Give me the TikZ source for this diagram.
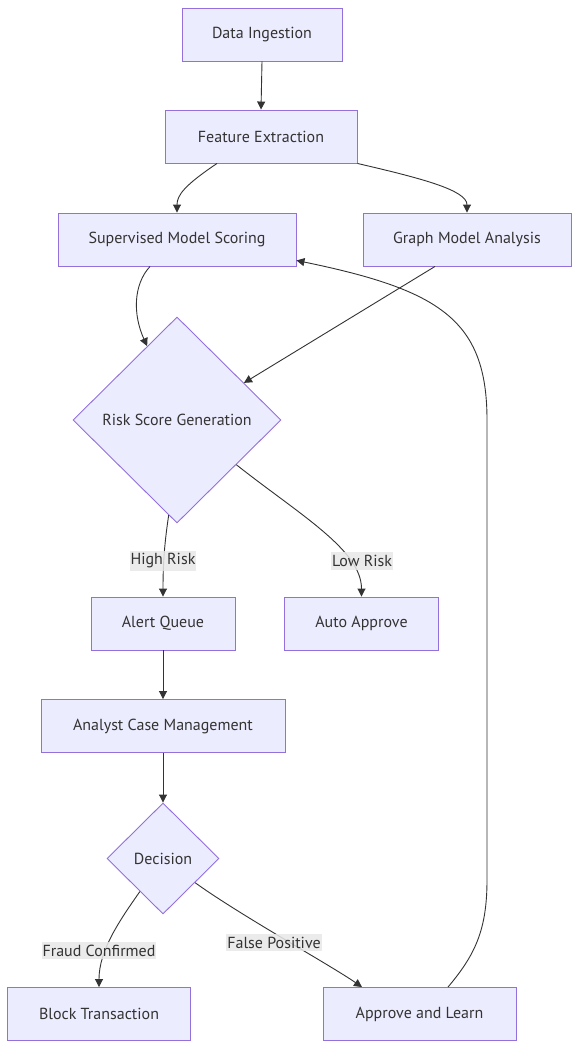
\documentclass[tikz,border=0pt]{standalone}
\usepackage{fontspec}
\setmainfont{PT Sans}
\usetikzlibrary{shapes.geometric,arrows.meta,calc}
\definecolor{nodefill}{HTML}{ECECFF}
\definecolor{nodeline}{HTML}{9370DB}
\definecolor{edgecol}{HTML}{333333}
\definecolor{lblfill}{HTML}{E8E8E8}
\begin{document}
\begin{tikzpicture}[x=1pt,y=-1pt,
  box/.style={draw=nodeline, fill=nodefill, line width=0.9pt, text=edgecol,
    font=\fontsize{16}{19}\selectfont, inner sep=0pt},
  dia/.style={box, diamond},
  conn/.style={draw=edgecol, line width=0.9pt, -{Triangle[length=8pt,width=8pt]}},
  elabel/.style={fill=lblfill, fill opacity=0.85, text opacity=1, text=edgecol,
    font=\fontsize{16}{19}\selectfont, inner xsep=1pt, inner ysep=3pt}
]
\fill[white] (0,0) rectangle (586,1063);
\useasboundingbox (0,0) rectangle (586,1063);

\node[box, minimum width=160pt, minimum height=53pt] (di) at (262,34.5) {Data Ingestion};
\node[box, minimum width=192pt, minimum height=53pt] (fe) at (261,136.5) {Feature Extraction};
\node[box, minimum width=238pt, minimum height=53pt] (sms) at (177,239.5) {Supervised Model Scoring};
\node[box, minimum width=208pt, minimum height=53pt] (gma) at (467,239.5) {Graph Model Analysis};
\node[dia, minimum width=208pt, minimum height=206pt] (rsg) at (177,420) {Risk Score Generation};
\node[box, minimum width=144pt, minimum height=53pt] (aq) at (163,623.5) {Alert Queue};
\node[box, minimum width=154pt, minimum height=53pt] (aa) at (361.5,623.5) {Auto Approve};
\node[box, minimum width=244pt, minimum height=53pt] (acm) at (163,726) {Analyst Case Management};
\node[dia, minimum width=112pt, minimum height=111pt] (dec) at (163,858.5) {Decision};
\node[box, minimum width=183pt, minimum height=53pt] (bt) at (99,1014) {Block Transaction};
\node[box, minimum width=193pt, minimum height=53pt] (aal) at (419.5,1014) {Approve and Learn};

\draw[conn] (di.south) -- (fe.north);
\draw[conn] ([xshift=-44pt]fe.south) .. controls (185,185) and (177,195) .. (sms.north);
\draw[conn] (fe.south east) .. controls (420,178) and (467,190) .. (gma.north);
\draw[conn] ([xshift=-27pt]sms.south) .. controls (133,285) and (133,315) .. (rsg.112);
\draw[conn] ([xshift=-32pt]gma.south) -- (rsg.29);
\draw[conn] (rsg.265) .. controls (165,540) and (163,560) .. (aq.north);
\draw[conn] (rsg.-37) .. controls (300,515) and (361.5,550) .. (aa.north);
\draw[conn] (aq.south) -- (acm.north);
\draw[conn] (acm.south) -- (dec.north);
\draw[conn] (dec.235) .. controls (120,920) and (99,950) .. (bt.north);
\draw[conn] (dec.-37) .. controls (240,915) and (330,965) .. ([xshift=-57.5pt]aal.north);
\draw[conn] ([xshift=28.5pt]aal.north) .. controls (475,955) and (487,930) .. (487,880)
  -- (487,420) .. controls (487,320) and (440,290) .. ([yshift=6pt]sms.south east);

\node[elabel] (lhr) at (163,561) {High Risk};
\node[elabel] (llr) at (362,561) {Low Risk};
\node[elabel] (lfc) at (99,950.5) {Fraud Confirmed};
\node[elabel] (lfp) at (274,942.5) {False Positive};
\end{tikzpicture}
\end{document}
